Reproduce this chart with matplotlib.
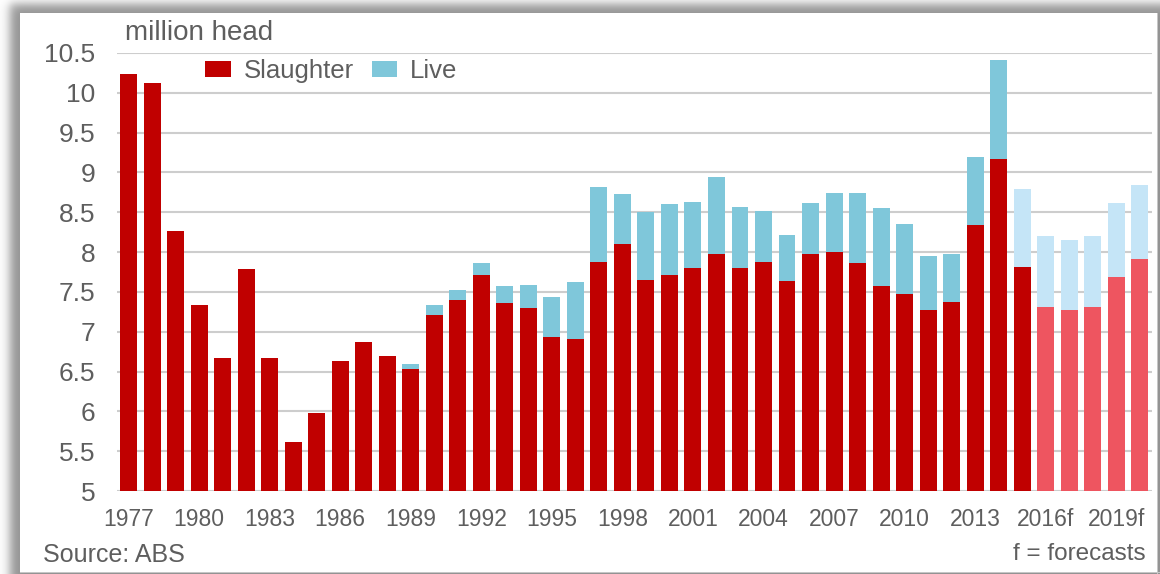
import numpy as np
import matplotlib
matplotlib.use("Agg")
import matplotlib.pyplot as plt
from matplotlib.patches import Patch

# ---- data (million head) ----
years = [str(y) for y in range(1977, 2016)] + ["2016f", "2017f", "2018f", "2019f", "2020f"]
slaughter = [10.24, 10.12, 8.27, 7.33, 6.67, 7.79, 6.67, 5.62, 5.98, 6.63,
             6.87, 6.70, 6.53, 7.21, 7.40, 7.71, 7.36, 7.30, 6.93, 6.91,
             7.88, 8.10, 7.65, 7.71, 7.80, 7.97, 7.80, 7.88, 7.64, 7.97,
             8.00, 7.86, 7.58, 7.48, 7.27, 7.37, 8.34, 9.17, 7.81, 7.31,
             7.27, 7.31, 7.69, 7.91]
live = [0.00, 0.00, 0.00, 0.00, 0.00, 0.00, 0.00, 0.00, 0.00, 0.00,
        0.00, 0.00, 0.06, 0.12, 0.12, 0.15, 0.22, 0.29, 0.51, 0.72,
        0.94, 0.63, 0.85, 0.89, 0.83, 0.97, 0.77, 0.64, 0.58, 0.65,
        0.74, 0.88, 0.97, 0.87, 0.68, 0.61, 0.85, 1.24, 0.98, 0.89,
        0.88, 0.89, 0.93, 0.93]
# estimated values: live exports from 2015, slaughter from 2016f
live_estimated = [y >= "2015" for y in years]
slaughter_estimated = [y.endswith("f") for y in years]
y_ticks = [5, 5.5, 6, 6.5, 7, 7.5, 8, 8.5, 9, 9.5, 10, 10.5]
y_tick_labels = ["5", "5.5", "6", "6.5", "7", "7.5", "8", "8.5", "9", "9.5", "10", "10.5"]

RED = "#C00000"
RED_F = "#EE5560"
BLUE = "#7FC7DA"
BLUE_F = "#C5E5F7"
TEXT = "#5e5e5e"
GRID = "#cdcdcd"

plt.rcParams["font.family"] = ["Liberation Sans", "DejaVu Sans"]

W, H = 1160, 574
fig = plt.figure(figsize=(W / 100, H / 100), dpi=100)

# ---- framed panel with soft shadow on the top/left ----
bg = fig.add_axes([0, 0, 1, 1], zorder=-5)
xx, yy = np.meshgrid(np.arange(W) + 0.5, np.arange(H) + 0.5)
sx = 1.0 / (1.0 + np.exp(-(xx - 10.0) / 3.0))
sy = 1.0 / (1.0 + np.exp(-(yy - 4.0) / 3.0))
dark = 0.42 * sx * sy
img = np.ones((H, W, 3)) * (1.0 - dark)[..., None]
panel = (xx >= 20) & (xx <= 1157) & (yy >= 13) & (yy <= 572)
img[panel] = 1.0
edge = ((np.abs(xx - 1157.5) < 1.0) & (yy >= 13)) | ((np.abs(yy - 572.5) < 1.0) & (xx >= 20))
img[edge] = 0.78
bg.imshow(img, extent=(0, W, H, 0), aspect="auto", interpolation="bilinear")
bg.set_xlim(0, W)
bg.set_ylim(H, 0)
bg.axis("off")

# ---- main chart ----
ax = fig.add_axes([117 / W, 1 - 491 / H, (1152 - 117) / W, (491 - 53) / H])
ax.set_facecolor("none")
x = np.arange(len(years))
s_colors = [RED_F if e else RED for e in slaughter_estimated]
l_colors = [BLUE_F if e else BLUE for e in live_estimated]
base = y_ticks[0]
ax.bar(x, np.array(slaughter) - base, bottom=base, width=0.72, color=s_colors, linewidth=0)
ax.bar(x, live, bottom=slaughter, width=0.72, color=l_colors, linewidth=0)

ax.set_ylim(y_ticks[0], y_ticks[-1])
ax.set_xlim(-0.49, 43.52)
ax.set_yticks(y_ticks)
ax.set_yticklabels(y_tick_labels)
ax.set_xticks(x[::3])
ax.set_xticklabels(years[::3])
ax.tick_params(axis="y", length=0, pad=15.5, labelsize=19, labelcolor=TEXT)
ax.tick_params(axis="x", length=0, pad=12.5, labelsize=16.5, labelcolor=TEXT)
ax.set_axisbelow(True)
ax.grid(axis="y", color=GRID, linewidth=1.5)
ax.grid(axis="x", visible=False)
for sp in ax.spines.values():
    sp.set_visible(False)

handles = [Patch(facecolor=RED, edgecolor="none", label="Slaughter"),
           Patch(facecolor=BLUE, edgecolor="none", label="Live")]
ax.legend(handles=handles, ncol=2, frameon=False, loc="center left",
          bbox_to_anchor=(205 / W, 1 - 71 / H), bbox_transform=fig.transFigure,
          borderpad=0, borderaxespad=0, handlelength=1.0, handleheight=0.55,
          handletextpad=0.5, columnspacing=0.7, fontsize=18.5, labelcolor=TEXT)

fig.text(125 / W, 1 - 40 / H, "million head", fontsize=20, color=TEXT, ha="left", va="baseline")
fig.text(43 / W, 1 - 562 / H, "Source: ABS", fontsize=18, color=TEXT, ha="left", va="baseline")
fig.text(1146 / W, 1 - 560 / H, "f = forecasts", fontsize=17.5, color=TEXT, ha="right", va="baseline")

fig.savefig("out.png", dpi=100)
